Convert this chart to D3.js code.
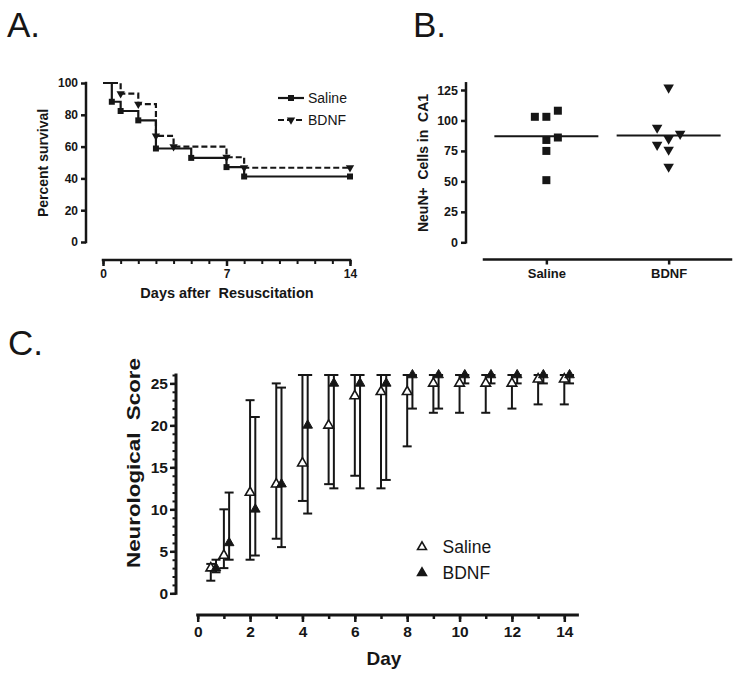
<!DOCTYPE html>
<html>
<head>
<meta charset="utf-8">
<script src="https://cdn.jsdelivr.net/npm/d3@7"></script>
<style>
  html, body { margin: 0; padding: 0; background: #fff; }
  svg { display: block; font-family: "Liberation Sans", Arial, sans-serif; }
</style>
</head>
<body>
<svg id="chart" width="750" height="676"></svg>
<script>
// ---------------- DATA ----------------
// Panel A: Kaplan-Meier survival (percent)
const kmSalineDays = [0, 0.5, 1, 2, 3, 5, 7, 8, 14];
const kmSalineSurv = [100, 88.2, 82.4, 76.5, 58.8, 52.9, 47.1, 41.2, 41.2];
const kmBdnfDays   = [0, 1, 2, 3, 4, 7, 8, 14];
const kmBdnfSurv   = [100, 93.3, 86.7, 66.7, 60, 53.3, 46.7, 46.7];
const kmXTicks = [0, 7, 14];
const kmYTicks = [0, 20, 40, 60, 80, 100];

// Panel B: NeuN+ cells in CA1
const groups = ["Saline", "BDNF"];
const neunSaline    = [103, 103, 108, 84, 86, 75, 51];
const neunSalineCol = [-1, 0, 1, 0, 1, 0, 0];
const neunBdnf      = [127, 94, 89, 85, 80, 76, 62];
const neunBdnfCol   = [0, -1, 1, 0, -1, 0, 0];
const neunYTicks = [0, 25, 50, 75, 100, 125];

// Panel C: Neurological score (mean with range)
const scoreDaysSaline = [0.5, 1, 2, 3, 4, 5, 6, 7, 8, 9, 10, 11, 12, 13, 14];
const scoreSalineMean = [3, 4.5, 12, 13, 15.5, 20, 23.5, 24, 24, 25, 25, 25, 25, 25.5, 25.5];
const scoreSalineLo   = [1.5, 3, 4, 6.5, 11, 13, 14, 12.5, 17.5, 21.5, 21.5, 21.5, 22, 22.5, 22.5];
const scoreSalineHi   = [3.5, 10, 23, 25, 26, 26, 26, 26, 26, 26, 26, 26, 26, 26, 26];
const scoreDaysBdnf = [0.7, 1.2, 2.2, 3.2, 4.2, 5.2, 6.2, 7.2, 8.2, 9.2, 10.2, 11.2, 12.2, 13.2, 14.2];
const scoreBdnfMean = [3, 6, 10, 13, 20, 25, 25, 25, 26, 26, 26, 26, 26, 26, 26];
const scoreBdnfLo   = [2.5, 4, 4.5, 5.5, 9.5, 12.5, 12.5, 13.5, 22, 22, 25, 25, 25, 25, 25];
const scoreBdnfHi   = [4, 12, 21, 24.5, 26, 26, 26, 26, 26, 26, 26, 26, 26, 26, 26];
const scoreXTicks = [0, 2, 4, 6, 8, 10, 12, 14];
const scoreYTicks = [0, 5, 10, 15, 20, 25];

// ---------------- DRAW ----------------
const INK = "#161616";
const svg = d3.select("#chart");
svg.append("rect").attr("width", 750).attr("height", 676).attr("fill", "#fff");

function styleAxis(g, width, fontSize, bold) {
  g.select(".domain").remove();
  g.selectAll(".tick line").attr("stroke", INK).attr("stroke-width", width);
  g.selectAll(".tick text").attr("fill", INK).attr("font-size", fontSize)
    .attr("font-weight", bold ? "bold" : "normal")
    .attr("font-family", "'Liberation Sans', Arial, sans-serif");
}
function line(x1, y1, x2, y2, w) {
  svg.append("line").attr("x1", x1).attr("y1", y1).attr("x2", x2).attr("y2", y2)
    .attr("stroke", INK).attr("stroke-width", w).attr("stroke-linecap", "square");
}
function panelLabel(txt, x, y) {
  svg.append("text").attr("x", x).attr("y", y).attr("font-size", 35)
    .attr("fill", INK).text(txt);
}

// ===== Panel A =====
panelLabel("A.", 7, 37);
const xA = d3.scaleLinear().domain([0, 14]).range([103, 350]);
const yA = d3.scaleLinear().domain([0, 100]).range([242, 83]);

const gAy = svg.append("g").attr("transform", "translate(86,0)")
  .call(d3.axisLeft(yA).tickValues(kmYTicks).tickSize(5).tickSizeOuter(0).tickPadding(3));
styleAxis(gAy, 2.5, 12, true);
line(86, yA(0), 86, yA(100), 2.5);

const gAxMinor = svg.append("g").attr("transform", "translate(0,260)")
  .call(d3.axisBottom(xA).tickValues(d3.range(0, 15)).tickSize(4).tickFormat(""));
styleAxis(gAxMinor, 2, 12, true);
const gAx = svg.append("g").attr("transform", "translate(0,260)")
  .call(d3.axisBottom(xA).tickValues(kmXTicks).tickSize(6).tickSizeOuter(0).tickPadding(3));
styleAxis(gAx, 2.5, 12, true);
line(xA(0), 260, xA(14), 260, 2.5);

svg.append("text").attr("transform", "translate(43,163) rotate(-90)")
  .attr("text-anchor", "middle").attr("dy", "0.35em")
  .attr("font-size", 14).attr("font-weight", "bold").attr("fill", INK)
  .text("Percent survival");
svg.append("text").attr("x", 227).attr("y", 298).attr("text-anchor", "middle")
  .attr("font-size", 14.5).attr("font-weight", "bold").attr("fill", INK)
  .style("white-space", "pre").text("Days after  Resuscitation");

const kmLine = d3.line().x(d => xA(d[0])).y(d => yA(d[1])).curve(d3.curveStepAfter);
const salinePts = kmSalineDays.map((d, i) => [d, kmSalineSurv[i]]);
const bdnfPts = kmBdnfDays.map((d, i) => [d, kmBdnfSurv[i]]);

svg.append("path").attr("d", kmLine(bdnfPts)).attr("fill", "none")
  .attr("stroke", INK).attr("stroke-width", 2.2).attr("stroke-dasharray", "6,3");
svg.append("path").attr("d", kmLine(salinePts)).attr("fill", "none")
  .attr("stroke", INK).attr("stroke-width", 2.2);

const sqA = d3.symbol().type(d3.symbolSquare).size(36);
const triDown = (size) => d3.symbol().type(d3.symbolTriangle).size(size);
svg.append("g").selectAll("path").data(salinePts.slice(1)).join("path")
  .attr("d", sqA()).attr("fill", INK)
  .attr("transform", d => `translate(${xA(d[0])},${yA(d[1])})`);
svg.append("g").selectAll("path").data(bdnfPts.slice(1)).join("path")
  .attr("d", triDown(30)()).attr("fill", INK)
  .attr("transform", d => `translate(${xA(d[0])},${yA(d[1])}) rotate(180)`);

// legend A
const legA = [
  { name: "Saline", y: 98, dash: null },
  { name: "BDNF", y: 120, dash: "6,3" }
];
legA.forEach(l => {
  svg.append("line").attr("x1", 278).attr("x2", 304).attr("y1", l.y).attr("y2", l.y)
    .attr("stroke", INK).attr("stroke-width", 2.2)
    .attr("stroke-dasharray", l.dash);
  svg.append("path").attr("fill", INK)
    .attr("d", l.dash ? triDown(30)() : sqA())
    .attr("transform", `translate(291,${l.y})` + (l.dash ? " rotate(180)" : ""));
  svg.append("text").attr("x", 308).attr("y", l.y).attr("dy", "0.35em")
    .attr("font-size", 14).attr("fill", INK).text(l.name);
});

// ===== Panel B =====
panelLabel("B.", 413, 37);
const yB = d3.scaleLinear().domain([0, 125]).range([242.3, 90]);
const xB = d3.scalePoint().domain(groups).range([484, 731]).padding(0.51);

const gBy = svg.append("g").attr("transform", "translate(466,0)")
  .call(d3.axisLeft(yB).tickValues(neunYTicks).tickSize(5).tickSizeOuter(0).tickPadding(3));
styleAxis(gBy, 2.5, 12.5, true);
line(466, yB(0), 466, yB(130.5), 2.5);

const gBx = svg.append("g").attr("transform", "translate(0,259.5)")
  .call(d3.axisBottom(xB).tickSize(5).tickSizeOuter(0).tickPadding(4));
styleAxis(gBx, 2.5, 13, true);
line(484, 259.5, 731, 259.5, 2.5);

svg.append("text").attr("transform", "translate(423,163) rotate(-90)")
  .attr("text-anchor", "middle").attr("dy", "0.35em")
  .attr("font-size", 14).attr("font-weight", "bold").attr("fill", INK)
  .style("white-space", "pre").text("NeuN+  Cells in  CA1");

const colStep = 11.5;
const neunSets = [
  { g: "Saline", vals: neunSaline, cols: neunSalineCol, sym: d3.symbol().type(d3.symbolSquare).size(64)(), rot: 0 },
  { g: "BDNF", vals: neunBdnf, cols: neunBdnfCol, sym: triDown(48)(), rot: 180 }
];
neunSets.forEach(s => {
  const mean = d3.mean(s.vals);
  line(xB(s.g) - 51, yB(mean), xB(s.g) + 51, yB(mean), 2);
  svg.append("g").selectAll("path").data(s.vals).join("path")
    .attr("d", s.sym).attr("fill", INK)
    .attr("transform", (d, i) => `translate(${xB(s.g) + s.cols[i] * colStep},${yB(d)}) rotate(${s.rot})`);
});

// ===== Panel C =====
panelLabel("C.", 8, 355);
const xC = d3.scaleLinear().domain([0, 14]).range([197.7, 564.3]);
const yC = d3.scaleLinear().domain([0, 26]).range([593.3, 375]);

const gCyMinor = svg.append("g").attr("transform", "translate(176,0)")
  .call(d3.axisLeft(yC).tickValues(d3.range(0, 27)).tickSize(3.5).tickFormat(""));
styleAxis(gCyMinor, 2, 15, true);
const gCy = svg.append("g").attr("transform", "translate(176,0)")
  .call(d3.axisLeft(yC).tickValues(scoreYTicks).tickSize(6).tickSizeOuter(0).tickPadding(2));
styleAxis(gCy, 2.5, 15.5, true);
line(176, yC(0), 176, yC(26), 3);

const gCxMinor = svg.append("g").attr("transform", "translate(0,615)")
  .call(d3.axisBottom(xC).tickValues(d3.range(0, 15)).tickSize(4).tickFormat(""));
styleAxis(gCxMinor, 2.5, 15, true);
const gCx = svg.append("g").attr("transform", "translate(0,615)")
  .call(d3.axisBottom(xC).tickValues(scoreXTicks).tickSize(7).tickSizeOuter(0).tickPadding(4));
styleAxis(gCx, 2.5, 15.5, true);
line(xC(0), 615, xC(14.5), 615, 3);

svg.append("text").attr("x", 384).attr("y", 665).attr("text-anchor", "middle")
  .attr("font-size", 19).attr("font-weight", "bold").attr("fill", INK).text("Day");
svg.append("text").attr("transform", "translate(134,463) rotate(-90)")
  .attr("text-anchor", "middle").attr("dy", "0.35em")
  .attr("font-size", 18).attr("font-weight", "bold").attr("fill", INK)
  .attr("textLength", 210).attr("lengthAdjust", "spacingAndGlyphs")
  .style("white-space", "pre").text("Neurological  Score");

const capW = 4.5;
function errorBars(days, lo, hi) {
  const g = svg.append("g");
  days.forEach((d, i) => {
    const x = xC(d);
    g.append("line").attr("x1", x).attr("x2", x).attr("y1", yC(lo[i])).attr("y2", yC(hi[i]))
      .attr("stroke", INK).attr("stroke-width", 2);
    [lo[i], hi[i]].forEach(v => {
      g.append("line").attr("x1", x - capW).attr("x2", x + capW).attr("y1", yC(v)).attr("y2", yC(v))
        .attr("stroke", INK).attr("stroke-width", 2);
    });
  });
}
errorBars(scoreDaysSaline, scoreSalineLo, scoreSalineHi);
errorBars(scoreDaysBdnf, scoreBdnfLo, scoreBdnfHi);

const triUp = d3.symbol().type(d3.symbolTriangle).size(40)();
svg.append("g").selectAll("path").data(scoreDaysSaline).join("path")
  .attr("d", triUp).attr("fill", "#fff").attr("stroke", INK).attr("stroke-width", 1.6)
  .attr("transform", (d, i) => `translate(${xC(d)},${yC(scoreSalineMean[i])})`);
svg.append("g").selectAll("path").data(scoreDaysBdnf).join("path")
  .attr("d", triUp).attr("fill", INK).attr("stroke", INK).attr("stroke-width", 1)
  .attr("transform", (d, i) => `translate(${xC(d)},${yC(scoreBdnfMean[i])})`);

// legend C
[{ name: "Saline", y: 547, fill: "#fff" }, { name: "BDNF", y: 573, fill: INK }].forEach(l => {
  svg.append("path").attr("d", d3.symbol().type(d3.symbolTriangle).size(34)())
    .attr("fill", l.fill).attr("stroke", INK).attr("stroke-width", 1.6)
    .attr("transform", `translate(422,${l.y})`);
  svg.append("text").attr("x", 442.5).attr("y", l.y).attr("dy", "0.36em")
    .attr("font-size", 17.5).attr("fill", INK).text(l.name);
});
</script>
</body>
</html>
